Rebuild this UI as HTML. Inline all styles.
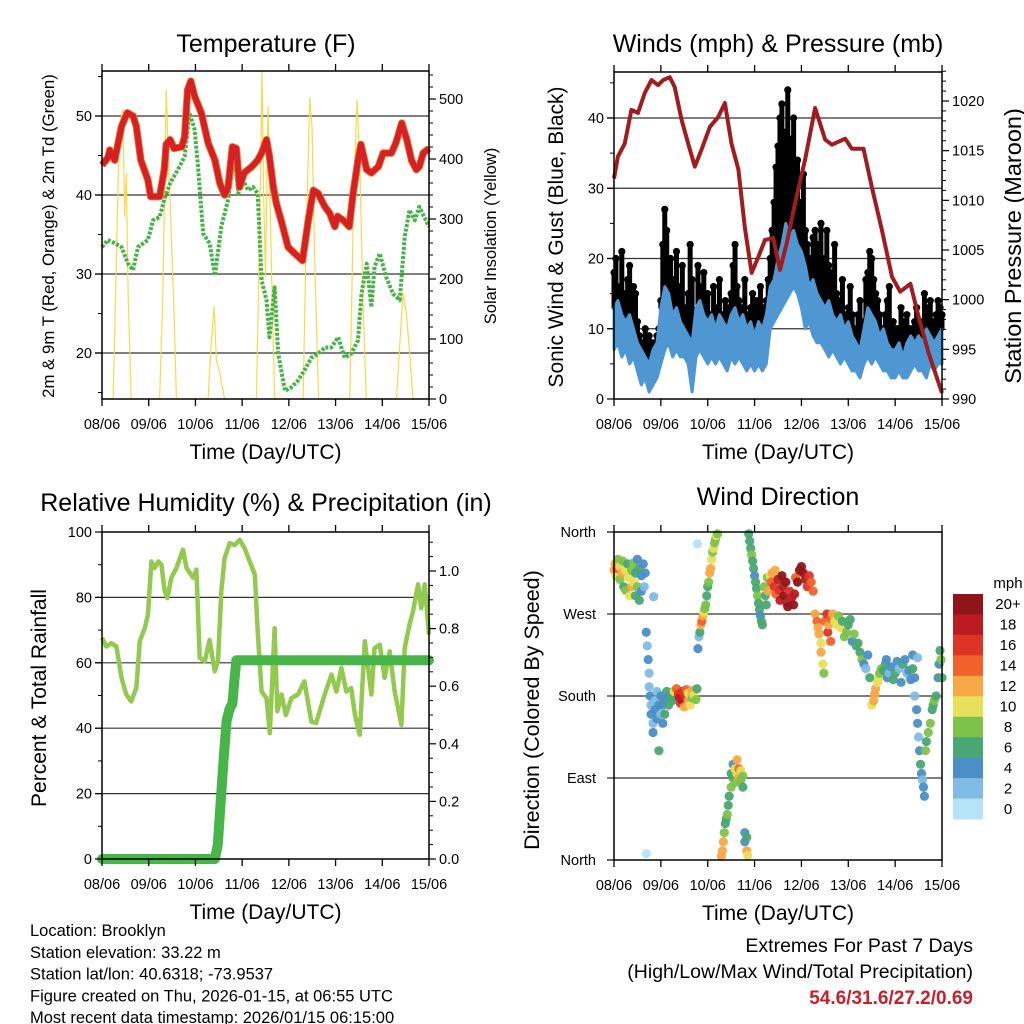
<!DOCTYPE html>
<html><head><meta charset="utf-8">
<style>
html,body{margin:0;padding:0;background:#fff;}
svg{display:block;font-family:"Liberation Sans",Arial,sans-serif;}
</style></head>
<body>
<svg id="root" xmlns="http://www.w3.org/2000/svg" width="1024" height="1024" viewBox="0 0 1024 1024">
<rect width="1024" height="1024" fill="#fff"/>
</svg>
<script>
// ---------------- DATA ----------------
const dayLabels = ["08/06","09/06","10/06","11/06","12/06","13/06","14/06","15/06"];
// Temperature (F)
const tempHours = [0,3,4,6.5,10,13,16,17.6,20,23.6,25,29.6,32,33,35,37,41,42.5,44,45.6,47.6,51,54.5,58,60.5,63,64.8,67,69,70.7,73,77,80,82,84.5,86,88,89.6,92,95.6,99,103,106,108.6,111,114.5,117,119.6,121,124,127,129,131.5,133,136,138.4,142,144.4,148.7,151,154,156.6,159,161.5,163,165,168];
const temp2m = [43.8,44.7,45.7,44.4,48.7,50.4,50,48.7,44.4,41.9,39.8,39.8,43.2,46.4,47,45.9,46.1,47.4,53.3,54.4,52.5,50.4,46.6,44.4,41.5,40,41,46.1,45.9,41,42.8,43.6,44.4,45.3,47,44.9,41,38.9,36.8,33.4,32.6,31.7,36.8,40.6,40.2,38.5,37.7,36,37.3,36.8,36,40.2,44.4,46.4,43.2,42.8,43.6,45.3,45.3,46.6,49.1,47,44.4,43.2,43.6,45.3,45.9];
const dewHours = [0,3,6.5,10,13.4,16,18.5,23.6,26.2,29.6,32,35,39,42.5,45,47.6,49.3,52,55.3,58,61.3,64.8,68,70,72.5,75,77.6,80,82,84.5,86,88.7,90.5,94,97,100.7,104,107.6,111,114.5,117.8,121.3,124.7,128,131.5,133.3,136,138.4,140,142.7,146,149.5,153,155.5,158,160.7,163,168];
const dew2m = [33.4,34.3,33.9,33.4,31.3,30.5,33.4,34.3,36.8,37.2,39.4,41.5,43.2,44.9,50.4,48.3,43.6,35.1,33.9,29.8,36,39.4,44.9,40.2,41.9,40.6,41,40.2,29.2,26.7,22,28.3,19.9,15.2,15.6,16.5,17.8,19.4,19.9,20.7,20.7,22,19.4,19.9,21.6,27.5,31.3,25.8,30.9,32.6,29.6,27.5,26.7,34.7,38.1,36.8,38.5,36];
const solarHours = [0,5.7,9,10.8,11.6,12.5,13.4,15,29.6,31.3,33,34.8,36,37,38.2,54.5,55.9,57.6,58.8,60.5,63,79.3,81,82.2,83,84,85.3,87,88.7,103.3,105,106.7,107.9,109.3,111.3,127.3,129.3,131,132.4,134,135.8,151.3,153,154.7,156.4,158.1,159.8,168];
const solarVals = [0,0,454,482,304,376,176,0,0,176,515,343,232,148,0,0,82,154,65,43,0,0,287,545,343,204,487,232,0,0,287,501,454,232,0,0,343,498,398,176,0,0,93,176,143,76,0,0];
// Winds (mph) & pressure (mb)
const windHours2h = [0,2,4,6,8,10,12,14,16,18,20,22,24,26,28,30,32,34,36,38,40,42,44,46,48,50,52,54,56,58,60,62,64,66,68,70,72,74,76,78,80,82,84,86,88,90,92,94,96,98,100,102,104,106,108,110,112,114,116,118,120,122,124,126,128,130,132,134,136,138,140,142,144,146,148,150,152,154,156,158,160,162,164,166,168];
const windLow = [7,8,6,7,5,6, 4,2,3,1,2,3, 5,7,8,6,7,6, 6,5,1,6,7,6, 5,6,5,6,5,4, 6,5,6,5,4,5, 4,5,4,5,10,11, 12,13,14,15,16,15, 13,10,11,9,8,8, 7,6,7,6,5,6, 5,4,4,3,5,6, 5,6,5,4,4,3, 3,4,3,3,4,5, 4,4,3,5,4,5, 5];
const windHigh = [13,14,12,11,12,10, 8,7,6,5,7,8, 13,16,15,12,13,11, 10,9,8,13,14,12, 11,12,10,12,11,10, 12,13,11,12,10,11, 9,11,10,12,16,17, 20,22,25,23,24,22, 21,19,16,17,15,14, 13,14,12,11,12,10, 11,9,8,7,10,13, 12,11,9,10,8,7, 7,8,6,8,9,8, 9,8,10,9,8,9, 10];
const gustHourly = [18,20,14,16,21,15,13,17,19,12,16,15, 11,9,6,8,10,5,9,7,8,6,9,10, 14,22,27,24,18,20,15,17,21,14,16,19, 13,12,15,22,17,10,12,19,16,14,18,13, 15,12,11,16,13,11,17,12,10,14,12,13, 15,19,22,16,14,13,11,17,12,10,13,15, 12,14,10,16,13,12,14,17,20,24,28,33, 36,40,42,38,35,44,37,32,40,30,34,28, 26,32,24,22,20,18,23,24,19,22,25,17, 20,24,19,16,18,22,15,13,14,17,12,11, 13,16,12,10,8,12,14,9,11,17,18,21, 20,17,15,14,12,10,9,12,14,16,8,11, 7,10,9,13,11,9,12,8,10,9,11,13, 8,10,11,15,13,12,14,11,10,12,14,13,12];
const presHours = [0,2,5.5,8.9,12.3,15.7,19.2,22.6,25.2,28.6,31.1,34.6,38,41.4,44.8,49.1,53.4,56.8,60.2,63.7,67,70.5,73.9,77.3,81.6,85,88.5,92.7,97.9,103,108.2,111.6,118.4,121.8,127.8,132,137.2,142.4,146.6,151.8,156,161.2,168];
const presVals = [1012.2,1014.4,1015.7,1019.1,1018.8,1020.8,1022.1,1021.6,1022.1,1022.4,1021.4,1018.1,1015.7,1013.4,1015.1,1017.4,1018.4,1019.8,1015.7,1013.1,1007.3,1002.7,1004.3,1006,1006.2,1003,1005.7,1009.7,1014.1,1019.3,1016.1,1015.6,1016.2,1015.2,1015.2,1011.4,1007,1002.3,1000.8,1001.6,998.3,994.6,990.6];
// Relative humidity & precipitation
const rhHours = [0,2.2,4.8,7.4,10,12.5,15,17.6,19.4,22,23.6,25.4,27,29,30.5,32.2,33.6,35.6,38.2,41.6,43.4,46.8,48.5,50.2,52.8,55.3,57.9,59.6,61.3,63,65.6,68.2,70.7,73.3,75.9,78.5,80,82,84.5,86.2,88.7,90.1,92.2,94.5,97.3,100.7,104,107.6,110,114.4,117.9,120.4,123,125.5,128,130,132.4,135,138.4,140,142.7,145.2,147.8,150.4,153.8,155.5,158,159.8,162.4,164,165.8,168];
const rhVals = [67.6,65,66,65,55.4,50.3,48.2,52.3,66.6,70.6,74.7,91,89,91,90,81.9,79.8,86,89,94.6,89,86,88.5,61.5,60.5,67,57.4,60.5,81.9,92,96.6,96,97.6,95,91,87,69.6,51.2,49.2,38.5,70.6,45.2,50.3,44,49.2,50.3,54.3,42,41.6,50.3,56.4,51.2,58.4,51.2,52.3,44,38,66.6,50.3,64.5,65.5,55.4,63.5,51.2,41,64.5,71.7,75.7,84,76.7,84,68.6];
const precipHours = [0,58,59.5,61,62.5,64,65.5,67,68,69,168];
const precipVals = [0,0,0.05,0.2,0.35,0.48,0.52,0.54,0.62,0.69,0.69];
// Wind direction (deg) colored by speed (mph)
const dirHours = [0,0.5,1,1.5,2,3,3,4,4.5,5,6,6,7,7.5,8,9,9,10,10,11,11,12,12,13,13,14,14,15,15.5,16,
16.5,17,17.5,18,18,18.5,19,19,20,20,21,21,22,22,23,23,24,24,25,25,26,26,27,28,28,29,30,30.5,
31,32,33,33.5,34,35,35,36,36.5,37,38,38,39,40,40,41,42,42.5,
43,43.5,44,44.5,45,45.5,46,46.5,47,47.5,48,48.5,49,49.5,50,50.5,51,51.5,52,52.5,53,
55,55.5,56,56.5,57,57.5,58,58.5,59,60,60,61,61,62,62,63,63,64,64,65,65,66,66,67,67,68,68,68.5,
69,69.5,70,70.5,71,71.5,72,72.5,73,73.5,74,74.5,75,75.5,76,77,77.5,78,78.5,79,
80,80.5,81,82,82.5,83,84,84.5,85,86,86.5,87,88,88.5,89,90,91,92,92.5,93,94,95,96,97,98,99,100,101,102,
103,104,104.5,105,106,106,107,107.5,108,109,109.5,110,111,111,112,113,114,115,116,117,118,119,120,121,122,123,124,125,126,127,128,129,130,131,
132,133,133.5,134,135,135.5,136,137,138,139,139.5,140,141,142,143,144,145,146,147,148,149,150,151,152,153,
153,154,154,155,155.5,156,156.5,157,157.5,158,158.5,159,159.5,160,161,162,163,163.5,164,165,166,166.5,167,167.5,168,155.5,16.6,42.7,20.3];
const dirDegs = [318,325,312,320,330,322,308,315,328,300,318,296,325,310,290,318,300,326,305,315,290,330,300,320,285,312,295,325,300,315,
250,235,220,205,190,180,170,160,150,140,175,165,185,155,170,120,160,180,150,170,175,160,185,170,180,178,175,185,
185,188,182,178,172,185,175,168,180,187,175,183,170,186,178,181,176,188,
232,245,250,258,262,268,272,276,280,290,300,305,315,320,330,338,342,348,352,356,358,
4,10,20,30,40,45,50,60,70,80,95,90,105,85,100,95,110,90,100,88,98,92,80,30,20,10,25,5,
358,350,342,335,328,320,312,305,298,290,282,275,268,262,258,300,290,280,310,295,
312,305,315,300,318,292,308,296,285,312,300,290,305,282,278,295,288,280,292,310,305,318,322,315,308,300,312,305,295,
270,262,255,248,238,228,215,205,262,270,250,258,265,240,270,262,258,268,255,262,245,250,258,264,240,248,235,238,228,220,215,210,225,200,
170,175,182,188,195,200,205,210,208,215,220,200,205,212,198,205,218,210,195,215,220,205,208,198,210,
225,200,180,165,150,135,120,105,95,88,80,70,120,130,140,150,165,170,175,180,200,215,230,220,200,222,7,347,289];
const dirSpeeds = [12,13,10,14,8,11,9,12,8,7,10,9,6,11,10,9,12,8,10,7,6,5,8,7,6,4,5,4,3,5,
4,3,4,2,3,4,2,4,3,4,3,4,2,5,4,6,3,4,5,4,5,6,7,6,5,7,6,8,
10,14,16,18,17,16,19,13,16,15,12,11,10,12,9,10,8,6,
4,3,6,13,15,12,11,8,9,7,6,8,12,13,11,9,10,8,9,10,9,
12,13,12,8,7,6,9,7,6,8,7,6,5,9,10,11,12,13,14,9,10,8,6,5,4,12,7,10,
7,6,7,8,6,7,5,7,6,8,7,6,5,6,7,8,7,6,9,12,
11,14,13,16,12,15,18,17,19,20,18,21,20,19,21,17,19,20,18,14,20,21,22,20,19,16,17,15,14,
12,14,13,12,11,12,10,9,15,16,16,13,14,15,12,11,10,8,10,7,8,9,7,6,5,8,6,7,6,8,4,3,5,7,
10,12,13,12,10,11,8,9,6,7,4,5,3,4,6,7,4,3,5,6,4,3,5,4,7,
4,4,3,4,5,3,4,6,5,3,4,4,8,7,9,8,6,7,8,6,5,4,7,8,6,3,1,1,3];
const speedBinLabels = ["20+","18","16","14","12","10","8","6","4","2","0"];
const speedBinColors = ["#8f1518","#bb1b22","#dd3428","#f0622a","#f6a945","#e6e05a","#7dc24b","#4aa672","#4a8fc6","#7fbbe4","#b5e3f7"];
const dirLabels = ["North","East","South","West","North"];

// ---------------- HELPERS ----------------
const NS = "http://www.w3.org/2000/svg";
const root = document.getElementById("root");
const TICK_FS = 14.5;
function mk(tag, attrs, parent) {
  const e = document.createElementNS(NS, tag);
  for (const k in attrs) e.setAttribute(k, attrs[k]);
  (parent || root).appendChild(e);
  return e;
}
function txt(str, x, y, size, anchor, parent, extra) {
  const t = mk("text", Object.assign({x:x, y:y, "font-size":size, "text-anchor":anchor||"middle", fill:"#000"}, extra||{}), parent);
  t.textContent = str;
  return t;
}
function group(name) {
  const g = mk("g", {});
  
  
  return g;
}
function xScaleFor(p) { return h => p.x0 + h / 168 * (p.x1 - p.x0); }
function linScale(v0, y0, v1, y1) { return v => y0 + (v - v0) * (y1 - y0) / (v1 - v0); }
function pathFrom(xs, ys, xf, yf) {
  let d = "";
  for (let i = 0; i < xs.length; i++) d += (i ? "L" : "M") + xf(xs[i]).toFixed(1) + "," + yf(ys[i]).toFixed(1);
  return d;
}
function xAxis(p, g) {
  const xf = xScaleFor(p);
  dayLabels.forEach((lab, i) => {
    const x = xf(i * 24);
    mk("line", {x1:x, x2:x, y1:p.y1, y2:p.y1 + 7, stroke:"#000", "stroke-width":1.3}, g);
    mk("line", {x1:x, x2:x, y1:p.y0, y2:p.y0 - 7, stroke:"#000", "stroke-width":1.3}, g);
    const t = txt(lab, x, p.y1 + 30, TICK_FS, "middle", g);
    
    
  });
  const t = txt("Time (Day/UTC)", (p.x0 + p.x1) / 2, p.y1 + 60, 21, "middle", g);
  
  
}
function frame(p, g) {
  const r = mk("rect", {x:p.x0, y:p.y0, width:p.x1 - p.x0, height:p.y1 - p.y0, fill:"none", stroke:"#000", "stroke-width":1.5}, g);
  
  
}
function hGrid(p, g, ys) {
  ys.forEach(y => mk("line", {x1:p.x0 - 7, x2:p.x1, y1:y, y2:y, stroke:"#333", "stroke-width":1.2}, g));
}
function leftTicks(p, g, vals, yf, fmt, minorVals) {
  vals.forEach(v => {
    const y = yf(v);
    mk("line", {x1:p.x0 - 7, x2:p.x0, y1:y, y2:y, stroke:"#000", "stroke-width":1.2}, g);
    txt(fmt(v), p.x0 - 10, y + 5, TICK_FS, "end", g);
  });
  (minorVals||[]).forEach(v => { const y = yf(v); mk("line", {x1:p.x0 - 4, x2:p.x0, y1:y, y2:y, stroke:"#000", "stroke-width":1}, g); });
}
function rightTicks(p, g, vals, yf, fmt, minorVals) {
  vals.forEach(v => {
    const y = yf(v);
    mk("line", {x1:p.x1, x2:p.x1 + 7, y1:y, y2:y, stroke:"#000", "stroke-width":1.2}, g);
    txt(fmt(v), p.x1 + 10, y + 5, TICK_FS, "start", g);
  });
  (minorVals||[]).forEach(v => { const y = yf(v); mk("line", {x1:p.x1, x2:p.x1 + 4, y1:y, y2:y, stroke:"#000", "stroke-width":1}, g); });
}
function vTitle(str, x, y, size, g, name) {
  const t = txt(str, x, y, size, "middle", g, {transform:"rotate(-90 " + x + " " + y + ")"});
  
  
}
function range(a, b, s) { const r = []; for (let v = a; v <= b + 1e-9; v += s) r.push(+v.toFixed(4)); return r; }

// ---------------- PANEL 1: TEMPERATURE ----------------
(function(){
  const p = {x0:102, x1:429, y0:71, y1:399};
  const g = group("temperature-panel");
  const xf = xScaleFor(p);
  const yT = linScale(20, 353, 50, 116);
  const yS = linScale(0, 399, 500, 99);
  const t = txt("Temperature (F)", 266, 52, 25, "middle", g);
  
  
  hGrid(p, g, [20,30,40,50].map(yT));
  const sol = mk("path", {d:pathFrom(solarHours, solarVals, xf, yS), fill:"none", stroke:"#fbd84a", "stroke-width":1.2, "stroke-linejoin":"round"}, g);
  
  
  const dew = mk("path", {d:pathFrom(dewHours, dew2m, xf, yT), fill:"none", stroke:"#45b345", "stroke-width":4, "stroke-dasharray":"3 1.6", "stroke-linejoin":"round"}, g);
  
  
  const t9 = mk("path", {d:pathFrom(tempHours, temp2m, xf, yT), fill:"none", stroke:"#f07b22", "stroke-width":7.5, "stroke-linejoin":"round"}, g);
  
  
  const t2 = mk("path", {d:pathFrom(tempHours, temp2m, xf, yT), fill:"none", stroke:"#d42027", "stroke-width":5.8, "stroke-linejoin":"round"}, g);
  
  
  frame(p, g);
  leftTicks(p, g, [20,30,40,50], yT, v => String(v), [15,25,35,45,55]);
  rightTicks(p, g, [0,100,200,300,400,500], yS, v => String(v), range(20, 540, 20).filter(v => v % 100));
  xAxis(p, g);
  vTitle("2m & 9m T (Red, Orange) & 2m Td (Green)", 54, 236, 16.8, g, "temperature-y-axis-title");
  vTitle("Solar Insolation (Yellow)", 496, 236, 16.5, g, "solar-y-axis-title");
})();

// ---------------- PANEL 2: WINDS & PRESSURE ----------------
(function(){
  const p = {x0:614, x1:942, y0:72, y1:399};
  const g = group("winds-pressure-panel");
  const xf = xScaleFor(p);
  const yW = linScale(0, 399, 40, 118);
  const yP = linScale(990, 399, 1020, 101);
  const t = txt("Winds (mph) & Pressure (mb)", 778, 52, 25, "middle", g);
  
  
  hGrid(p, g, [10,20,30,40].map(yW));
  const gg = mk("g", {}, g);
  
  
  function hiAt(h) {
    const i = Math.min(Math.floor(h / 2), windHours2h.length - 2);
    const f = (h - windHours2h[i]) / 2;
    return windHigh[i] + (windHigh[i + 1] - windHigh[i]) * f;
  }
  gustHourly.forEach((v, h) => {
    const x = xf(h);
    const l = mk("line", {x1:x, x2:x, y1:yW(Math.min(hiAt(h), v)), y2:yW(v), stroke:"#000", "stroke-width":5, "stroke-linecap":"round"}, gg);
    
    
    const c = mk("circle", {cx:x, cy:yW(v), r:3.6, fill:"#000"}, gg);
    
    
  });
  let d = pathFrom(windHours2h, windHigh, xf, yW);
  for (let i = windHours2h.length - 1; i >= 0; i--) d += "L" + xf(windHours2h[i]).toFixed(1) + "," + yW(windLow[i]).toFixed(1);
  const band = mk("path", {d:d + "Z", fill:"#4f97d2", stroke:"#4f97d2", "stroke-width":3, "stroke-linejoin":"round"}, g);
  
  
  const pr = mk("path", {d:pathFrom(presHours, presVals, xf, yP), fill:"none", stroke:"#a01c1e", "stroke-width":4, "stroke-linejoin":"round"}, g);
  
  
  frame(p, g);
  leftTicks(p, g, [0,10,20,30,40], yW, v => String(v), [5,15,25,35,45]);
  rightTicks(p, g, [990,995,1000,1005,1010,1015,1020], yP, v => String(v), range(991, 1023, 1).filter(v => v % 5));
  xAxis(p, g);
  vTitle("Sonic Wind & Gust (Blue, Black)", 563, 237, 21, g, "wind-y-axis-title");
  vTitle("Station Pressure (Maroon)", 1021, 246, 23.5, g, "pressure-y-axis-title");
})();

// ---------------- PANEL 3: RH & PRECIP ----------------
(function(){
  const p = {x0:102, x1:429, y0:532, y1:859};
  const g = group("humidity-precip-panel");
  const xf = xScaleFor(p);
  const yR = linScale(0, 859, 100, 532);
  const yPr = linScale(0, 859, 1.0, 571);
  const t = txt("Relative Humidity (%) & Precipitation (in)", 266, 511, 25, "middle", g);
  
  
  hGrid(p, g, [20,40,60,80].map(yR));
  const rh = mk("path", {d:pathFrom(rhHours, rhVals, xf, yR), fill:"none", stroke:"#92c94e", "stroke-width":4.5, "stroke-linejoin":"round"}, g);
  
  
  const pc = mk("path", {d:pathFrom(precipHours, precipVals, xf, yPr), fill:"none", stroke:"#47b548", "stroke-width":10, "stroke-linejoin":"round", "stroke-linecap":"round"}, g);
  
  
  frame(p, g);
  leftTicks(p, g, [0,20,40,60,80,100], yR, v => String(v), [10,30,50,70,90]);
  rightTicks(p, g, [0,0.2,0.4,0.6,0.8,1.0], yPr, v => v.toFixed(1), range(0.05, 1.1, 0.05).filter(v => Math.abs(v*5 - Math.round(v*5)) > 1e-6));
  xAxis(p, g);
  vTitle("Percent & Total Rainfall", 46, 698, 21, g, "humidity-y-axis-title");
})();

// ---------------- PANEL 4: WIND DIRECTION ----------------
(function(){
  const p = {x0:614, x1:942, y0:532, y1:860};
  const g = group("wind-direction-panel");
  const xf = xScaleFor(p);
  const yD = linScale(0, 860, 360, 532);
  const t = txt("Wind Direction", 778, 505, 25, "middle", g);
  
  
  hGrid(p, g, [90,180,270].map(yD));
  [0,360].forEach(v => mk("line", {x1:p.x0 - 7, x2:p.x0, y1:yD(v), y2:yD(v), stroke:"#000", "stroke-width":1.2}, g));
  const pts = mk("g", {}, g);
  
  
  function colorFor(s) {
    const bin = Math.min(10, Math.floor(s / 2));
    return speedBinColors[10 - bin];
  }
  dirHours.forEach((h, i) => {
    const c = mk("circle", {cx:xf(h), cy:yD(dirDegs[i]), r:4.6, fill:colorFor(dirSpeeds[i]), "fill-opacity":0.95}, pts);
    
    
  });
  frame(p, g);
  dirLabels.forEach((lab, i) => {
    const l = txt(lab, p.x0 - 18, yD(i * 90) + 5, TICK_FS, "end", g);
    
    
  });
  xAxis(p, g);
  vTitle("Direction (Colored By Speed)", 539, 710, 21.5, g, "direction-y-axis-title");
  const cb = mk("g", {}, g);
  
  
  const bh = (819 - 594) / speedBinColors.length;
  speedBinColors.forEach((col, i) => {
    const r = mk("rect", {x:953, y:594 + i * bh, width:30, height:bh + 0.5, fill:col}, cb);
    
    
    const l = txt(speedBinLabels[i], 1008, 594 + i * bh + bh / 2 + 5, 15, "middle", cb);
    
    
  });
  const u = txt("mph", 1008, 588, 15, "middle", cb);
  
  
})();

// ---------------- FOOTER TEXT ----------------
(function(){
  const g = group("station-info");
  ["Location: Brooklyn","Station elevation: 33.22 m","Station lat/lon: 40.6318; -73.9537","Figure created on Thu, 2026-01-15, at 06:55 UTC","Most recent data timestamp: 2026/01/15 06:15:00"].forEach((s, i) => {
    const t = txt(s, 30, 936 + i * 21.8, 16.5, "start", g);
    
    
  });
  const g2 = group("extremes-summary");
  const a = txt("Extremes For Past 7 Days", 973, 952, 19.5, "end", g2);
  
  
  const b = txt("(High/Low/Max Wind/Total Precipitation)", 973, 978, 19.5, "end", g2);
  
  
  const c = txt("54.6/31.6/27.2/0.69", 973, 1004, 19, "end", g2, {fill:"#c8202a", "font-weight":"bold"});
  
  
})();
</script>
</body></html>
